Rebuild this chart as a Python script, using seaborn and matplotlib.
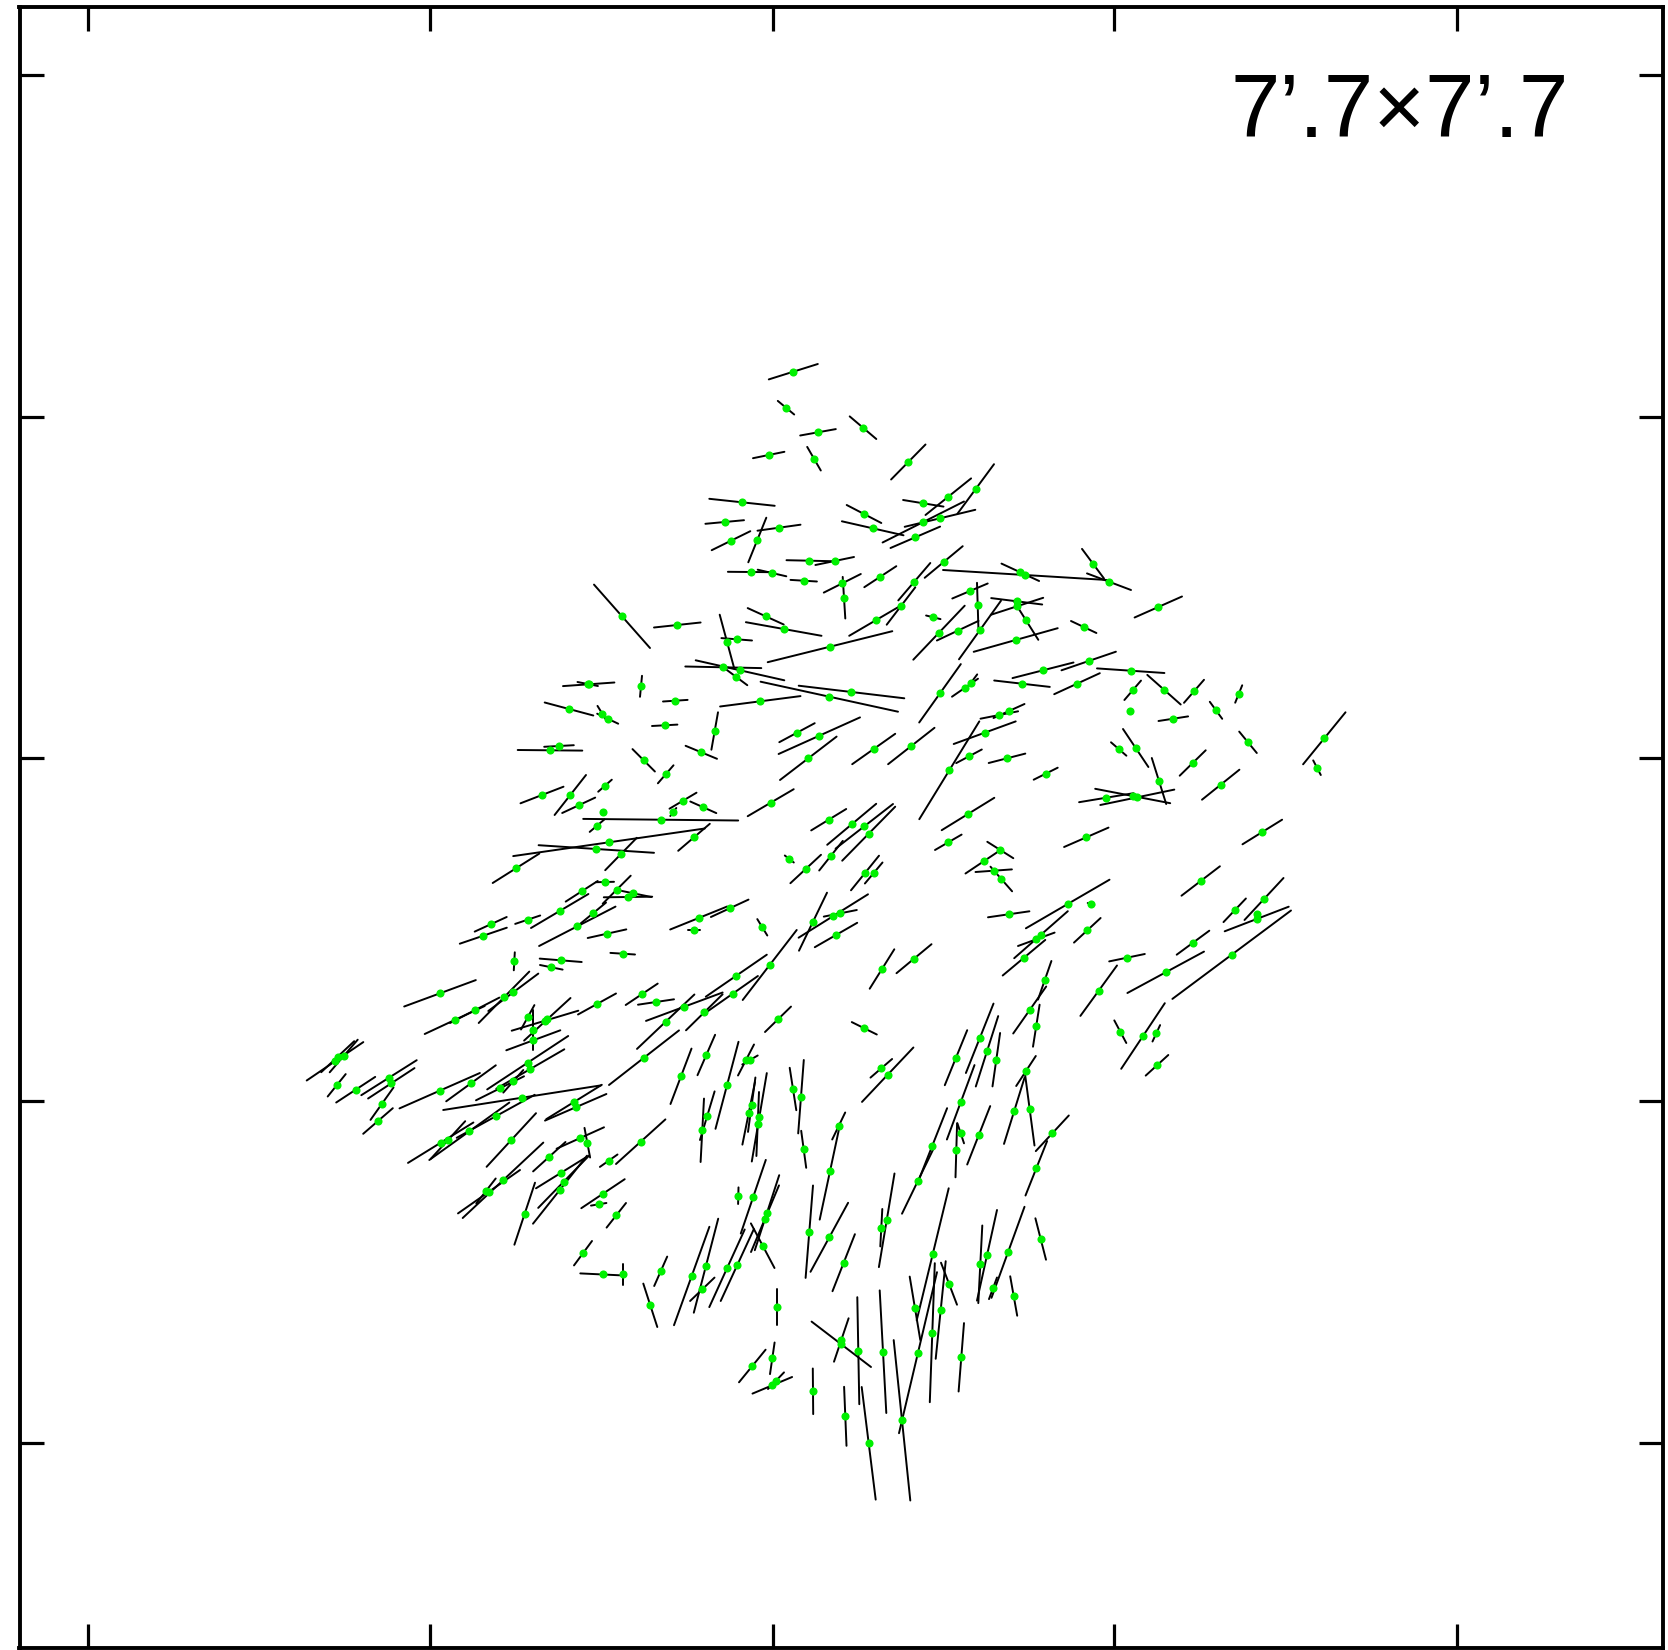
import matplotlib
matplotlib.use("Agg")
import matplotlib.pyplot as plt
import numpy as np
import pandas as pd
import seaborn as sns

# star positions and half polarization vectors, in image pixels of the map
star_x = [
    440, 454.7, 474.7, 504, 513.3, 514.3, 560.7, 551.3, 622.7, 597,
    641.7, 656, 527.7, 533.3, 533.3, 545, 547.3, 527.7, 530.3, 500,
    513.3, 471, 439.7, 389, 391.3, 382, 378, 355.7, 336.7, 335,
    337.7, 343.7, 522, 495.7, 469.3, 440.7, 448, 574, 575.7, 511.3,
    644, 640.7, 580.3, 587.3, 549.3, 608.7, 560.7, 563.7, 560, 603,
    598.7, 616.3, 524.7, 489, 503, 486, 583, 603.2, 623.4,
    542, 570.3, 578.7, 605, 603.3, 597, 660.7, 683, 673.3, 703.3,
    770.7, 694, 609, 596.3, 621, 516, 605, 616.7, 581.7, 633.3,
    628, 559.7, 593, 577.3, 607, 527.7, 490.7, 483.3, 698.7, 729.7,
    694, 789.3, 805.7, 762.3, 813, 769.7, 736.3, 732.7, 704.3, 684.3,
    665.7, 778,
    828.7, 851.7, 864.3, 868.7, 831, 865, 873.7, 949.3, 968, 948.3,
    1000.3, 983.7, 993.7, 1001.3, 1086.3, 1106.3, 1132.7, 1137.3, 1159, 833.3,
    840.3, 836, 882, 914, 1008.7, 1067.7, 1091, 1087.3, 1041, 1036.3,
    1024, 1127, 1098.7, 1044.7, 1029.7, 1036.3, 864.3, 1120.3,
    1088.7, 1043, 1130.7, 1077, 1132.7, 1164, 1194, 1238.7, 1216, 1129.7,
    1173.3, 1248, 1118.7, 1135.7, 1192.7, 1324.3, 1317, 1220.7, 1045.7, 1262.3,
    1200.7, 1264, 1234.7, 1256.7, 1257.3, 1231.7, 1193, 1165.7, 1143, 1156.3,
    1157,
    622, 677.3, 727, 736.7, 765.7, 783.7, 830, 842.3, 844, 723.3,
    740, 736.3, 851.5, 829.3, 760.3, 641, 587.7, 588.7, 675.3, 569,
    602.3, 607.7, 664.7, 714.7, 559, 550, 701.3, 643.7, 665.7, 797,
    819.3, 808.3,
    834.7, 880.3, 914.3, 943.7, 1020.3, 1025, 1093, 1109, 1158.3, 970,
    977.7, 933.3, 901, 875.7, 939, 957.7, 980, 1016.7, 1017, 1026,
    1015.7, 1083.7, 1022, 965, 971, 999.3, 1009, 984.7, 969, 1007,
    873.7, 911.3, 940,
    793.3, 786, 818, 863, 768.7, 814, 908.3, 742, 724.7, 731,
    757.3, 779, 864, 872.7, 923.3, 948.3, 975.7, 923.3, 940, 915.3,
    809.3, 750.7, 772, 803.7,
    681, 706.3, 727, 746, 750, 707.3, 702.3, 751.7, 748.7, 759.3,
    757.7, 793, 801, 803.7, 838.7, 830, 881.3, 887.7, 956, 979.7,
    987, 996.3, 960.7, 932.3, 918, 956.3, 960.7, 978.7, 738.3, 753.3,
    767, 765, 762.7, 809.3, 829.3, 843.7, 886.7, 881.3, 932.7, 980.3,
    987, 660.7, 691.7, 706, 702.3, 727, 737.3,
    650.3, 776.7, 841.3, 841.3, 858.3, 883, 918, 932.3, 940.7, 915,
    949, 993, 1013.7, 961.3, 752.3, 772.3, 776, 772.3, 813, 845.3,
    868.7, 902,
    1026, 1014.3, 1029.7, 1052.3, 1036.3, 1008, 1040.7,
]
star_y = [
    993.3, 1020, 1010.3, 997.3, 992.3, 961.3, 960.3, 967.3, 953.7, 1004,
    994.3, 1002, 1017.3, 1030.3, 1040.3, 1020.7, 1019.3, 1062.7, 1069, 1088.3,
    1081.3, 1083.3, 1090.7, 1077.7, 1083.3, 1103.7, 1121, 1089.7, 1085.3, 1061.3,
    1056.7, 1056, 1097.7, 1116.3, 1131.3, 1142.7, 1140, 1102, 1107.3, 1140,
    1057.7, 1141.7, 1138, 1142.7, 1156.7, 1160.7, 1173, 1181.7, 1189.7, 1193.7,
    1204.3, 1215.3, 1213.7, 1191.7, 1180.3, 1191, 1253.2, 1274.5, 1274.5,
    795, 795, 805.3, 785.7, 812, 825.7, 819.7, 800.7, 812, 807.3,
    802.7, 837.3, 842.3, 849, 854, 868.3, 882, 889.7, 891.3, 893.3,
    897, 911, 913.3, 926.3, 933.7, 919.7, 924.3, 935.7, 918, 908.3,
    930.3, 859, 869, 927.3, 921.7, 965, 975.7, 993.7, 1012.3, 1006.7,
    1021.7, 1019.3,
    819.7, 824.3, 826.3, 833.7, 855.7, 873, 873, 770.3, 814, 842.3,
    850, 861.3, 870.7, 879, 837.3, 797.7, 796, 797.3, 781, 916,
    913.3, 935, 969, 958.7, 914.3, 904, 904, 930.3, 934.7, 939.3,
    957.7, 957.7, 990.7, 980.3, 1010, 1025.7, 1028.3, 1031.7,
    661, 670.3, 670.7, 683.7, 690.3, 689.7, 691.3, 694, 710.3, 711,
    718.7, 742.3, 749, 748, 763, 738.3, 767.7, 784.7, 773.7, 832,
    881, 899, 910.3, 919, 914.3, 954.7, 942.7, 972.3, 1036, 1033.3,
    1065.3,
    616.3, 625, 641.7, 639.3, 616.3, 629, 646.7, 583.3, 597.7, 667.3,
    670.3, 677, 692, 696.7, 701.3, 686.3, 684, 684.3, 700.7, 709,
    713.7, 718.7, 725.3, 731, 746, 750.3, 752.3, 760.3, 774.3, 732.7,
    735.7, 758.3,
    561, 576.7, 581.7, 562, 572.3, 575, 563.7, 581.7, 607, 591,
    605.3, 617.3, 606, 620.3, 632.7, 630.7, 630, 601.3, 606.3, 620.3,
    640, 627, 683.7, 687.7, 682.7, 715, 711, 732.7, 756.3, 758.3,
    749, 746, 693.3,
    371.7, 407.7, 432.3, 427.7, 455, 458.7, 462, 502.3, 522, 540.7,
    540, 527.7, 514, 528.3, 503.3, 496.7, 489, 522, 518.3, 537.3,
    560.7, 572, 573, 580.7,
    1076.3, 1055, 1085.3, 1060, 1060, 1115.7, 1130.3, 1104.7, 1113.3, 1117.3,
    1124, 1089, 1096.7, 1149.3, 1126, 1171.3, 1068.3, 1074.7, 1057.7, 1038.3,
    1051.3, 1059.7, 1102.3, 1145.7, 1180.7, 1150.3, 1133.3, 1135.3, 1195.7, 1196.7,
    1212.7, 1218.7, 1245.7, 1231.7, 1237.3, 1262.7, 1220.3, 1227.7, 1254.3, 1264.3,
    1255.3, 1271.3, 1276, 1265.7, 1289.3, 1268.3, 1265,
    1305.3, 1307.3, 1340, 1344.3, 1350.7, 1351.7, 1352.7, 1332.7, 1310, 1308.3,
    1283.7, 1288.3, 1296, 1357.3, 1366, 1358.3, 1380.7, 1385.3, 1391.3, 1416.3,
    1443.3, 1420.3,
    1071, 1110.7, 1109.3, 1133.3, 1168.3, 1252.3, 1239,
]
half_dx = [
    35.8, 30, 24.7, 25.3, 25, 0.5, 21, 11.3, 12.3, 19,
    16, 18, 6.7, 0, 27, 33.3, 23.2, 40.5, 34, 24,
    10, 24.8, 40.2, 27.7, 23.2, 11.5, 14.8, 19.5, 9, 28.3,
    16.5, 14, 78.8, 39, 40, 32.7, 17.2, 27.8, 30.7, 24.7,
    35, 24.7, 23.7, 2.8, 16.2, 8.8, 24.7, 25.5, 27, 21.7,
    7.7, 9.7, 10.3, 31, 40.3, 9.7, 9, 22.9, 0,
    21.5, 15.7, 16.5, 6.8, 0, 7.3, 77.5, 13.5, 3, 13,
    23, 15.8, 95.8, 57.7, 15.8, 23.3, 9, 14, 16, 18,
    24.2, 28.7, 13, 38.2, 19.3, 12.5, 16, 23.5, 28.5, 18.8,
    5.8, 4.5, 15.3, 5, 14, 27, 30.5, 25.2, 18.3, 38.3,
    28.7, 13,
    17.5, 24.5, 28.7, 26.5, 11.8, 14, 8.8, 30, 26.3, 13.3,
    13, 18.2, 18.2, 10.8, 22.2, 27.2, 37.5, 37, 7.2, 34.7,
    16.5, 21.2, 12.3, 17.5, 20.7, 41.8, 3.3, 13.3, 26.8, 18.3,
    21.3, 17.8, 18.3, 6.7, 16.5, 3.3, 12.5, 6,
    27.2, 30.5, 33.7, 22.8, 8.3, 16.7, 10, 3.5, 6.2, 0,
    14.8, 8.8, 7.7, 12.7, 13, 21.2, 3.8, 18.7, 12, 19.8,
    19.2, 19.5, 11.2, 32, 0, 59.3, 16.3, 38.3, 21.8, 3.8,
    11.3,
    28, 23.3, 7.3, 15.3, 18, 37.8, 62.3, 18.5, 1.3, 38,
    44.3, 11, 52.8, 68.7, 40.2, 1, 10.2, 25.7, 12.3, 24.3,
    4.8, 10.5, 12.7, 3.3, 14.8, 32.3, 15.7, 11.2, 7.8, 17.7,
    40.7, 28.3,
    19.3, 16, 16, 19, 18.8, 82, 11, 22, 23.7, 17.7,
    0.7, 7.2, 14.3, 26.5, 25.7, 20.8, 21, 25.5, 26.2, 12.3,
    42, 12.7, 27.8, 13, 6.2, 18.8, 15.5, 31, 12.8, 18.3,
    21.5, 23.2, 20.8,
    24.5, 8.2, 17.8, 13.3, 15.7, 6.8, 17.2, 32.7, 19.3, 19.3,
    9, 21.5, 17.3, 30.8, 20.2, 22.8, 18.3, 40.7, 35.3, 24.8,
    22.8, 22.8, 14.3, 13.2,
    10.5, 8.8, 11.5, 8, 7.7, 7.3, 1.7, 3.7, 6.3, 7.5,
    1.3, 3.3, 2.8, 2.5, 6.5, 10.3, 10.8, 25.7, 11.2, 13.8,
    11.2, 3.8, 13.8, 14.8, 16, 0.8, 3.3, 11.5, 0.2, 12.5,
    12.2, 14, 11.8, 3.7, 18.8, 11.2, 7.8, 1, 16, 2,
    10, 6.5, 17.7, 12.2, 12.2, 17.7, 16.6,
    7, 0, 7.3, 29.7, 1, 3.3, 19, 2.5, 5, 5.3,
    8, 4, 3.5, 2.7, 13.3, 2.3, 8, 19.8, 0.2, 1.2,
    7, 8.3,
    9.8, 10.3, 4.8, 16.5, 10.8, 16.5, 5.3,
]
half_dy = [
    -13.2, -14, -12.7, -25.7, -18.7, -9, 1.7, 2.3, 0.8, -10.5,
    -10.7, -2.7, -12.2, -20, -10, -10, -21.3, -26.7, -19.7, -12,
    -11.3, -18, -17.7, -17.5, -15.2, -16.2, -12.8, -12.8, -11.2, -19.2,
    -15.5, -16.3, -12.3, -21.5, -28.7, -20.2, -18.8, -17.2, -13.3, -26.8,
    -27.3, -22.3, -10.7, 14.8, -14.7, -6.2, -15.3, -26.2, -34, -14.5,
    -1.3, -12.3, -31, -21.7, -37.7, -12.5, -12.2, 1.1, 10.6,
    -8.3, -20, -7.7, -6, 0, -6.2, 0.8, -8, -4, 5.8,
    -13.5, -13.5, -13.8, 3.8, -16.2, -14.7, -0.2, -14, -10.3, 3.7,
    -0.3, -17, -10.7, -19.7, -4.3, -4.2, -7.3, -8, -11.5, -8.7,
    0, 3.5, -14.2, 8.2, -29, -35, -21, -17.7, -18, -14.2,
    -27.2, -12.7,
    -10.7, -20.5, -22.3, -27, -14.8, -17.3, -10.5, -48.9, -16.2, -7.7,
    8.2, -12.2, -1.3, 12.3, -9.7, -4.5, 7.2, -7.7, 23, -21.7,
    -3.3, -12.2, -19.7, -14.5, -3, -24.3, 1, -12.3, -23.5, -6.7,
    -17.8, -3.7, -25.2, -19.3, -23.5, -21, 6.2, 11.3,
    -9.3, -7.8, 2.3, -10.5, -9.7, 14.8, -11.5, -8.7, 8.5, 0,
    -2.3, 10.7, 6.7, 19, -12.7, -26, 7.3, -15, -6, -12.3,
    -14.7, -21, -11.8, -12.3, 0, -44.2, -12, -20.7, -32.8, -8.2,
    -10.3,
    31.7, -2.5, 27, 1.2, 8.2, 6.8, -15.5, -9.3, 20.8, 0.8,
    10, 8.2, 6.3, 15, -5.2, -10.5, 2, -1.8, -0.8, 6.5,
    7.8, 5, -0.7, -18.7, -0.8, 0.3, 6.5, 11.2, -9, -9.5,
    -18.3, -21.7,
    -4, -10.5, -18.7, -15.8, 8.7, 5, 14.8, 8.3, -10.5, -7.5,
    22.5, 1.8, -18.7, -15.5, -27, -9.8, -29.3, 3.2, -8.5, 19.5,
    -11.8, 6, 3.2, -9, -8.3, -3.7, -7, -11.3, -6.8, -4.7,
    -15.2, -18.2, -29.2,
    -7.7, 6.8, -3.2, 11.3, -3.2, 11.8, -17.5, 3.5, -1.8, -9.5,
    -22.3, -3, 9, 7, 3.3, -18.3, -24.8, -20.5, -8.5, -10.7,
    0.5, 0.2, 3.3, 0.8,
    -27.7, -20.2, -43.5, -15.5, -4.5, -24.3, -31.7, -27.2, -31.3, -44.2,
    -32, 21.2, -36.7, 18.5, -13.5, -48.3, -9.3, -27.2, -27.5, -34.7,
    -35.2, -26.7, -37.2, -37.5, -33, -27, 10, -29.2, -8.3, -36.8,
    -37.5, -33.3, 22.3, -46.2, -34.5, -28.5, -46.8, -18.7, -66, -38.8,
    -45.3, -14.7, -49.2, -47, -11.7, -38.8, -36,
    21.7, 17.8, -21.7, 22.7, 53.5, 61.3, -80.5, -69.5, -48.8, 31.7,
    21, -10.8, 19.7, -34.2, -16.3, -15.8, -8.3, -8.3, 22.8, 29.5,
    56.3, 80.2,
    -15, -33.2, 36.2, -17.8, -27.2, -45.5, 20.7,
]
tick_x = [88, 430.5, 773, 1114.5, 1457.5]
tick_y = [75.5, 417, 758.5, 1101, 1443.5]
field_label = "7\u2019.7\u00d77\u2019.7"

stars = pd.DataFrame({"x": star_x, "y": star_y, "dx": half_dx, "dy": half_dy})
stars["star"] = np.arange(len(stars))

# each vector is drawn centred on its star
low_end = stars.assign(x=stars.x - stars.dx, y=stars.y - stars.dy)
high_end = stars.assign(x=stars.x + stars.dx, y=stars.y + stars.dy)
vectors = pd.concat([low_end, high_end]).sort_values("star", kind="stable")

sns.set_style("white")
plt.rcParams["font.family"] = ["Liberation Sans", "DejaVu Sans"]

W, H = 1668, 1650
fig = plt.figure(figsize=(W / 100, H / 100), dpi=100)
left, right, top, bottom = 19.5, 1662.7, 6.7, 1648
ax = fig.add_axes([left / W, 1 - bottom / H, (right - left) / W, (bottom - top) / H])

sns.lineplot(data=vectors, x="x", y="y", units="star", estimator=None, sort=False,
             color="black", lw=1.4, ax=ax, legend=False)
sns.scatterplot(data=stars, x="x", y="y", color="#00f000", s=34, linewidth=0,
                ax=ax, zorder=5, legend=False)

ax.set_xlim(left, right)
ax.set_ylim(bottom, top)
ax.set_xticks(tick_x)
ax.set_yticks(tick_y)
ax.set_xlabel("")
ax.set_ylabel("")
ax.tick_params(direction="in", length=17, width=2.3, color="black",
               top=True, right=True, bottom=True, left=True,
               labelbottom=False, labelleft=False)
for spine in ax.spines.values():
    spine.set_visible(True)
    spine.set_color("black")
    spine.set_linewidth(2.8)

ax.text(1231, 136.7, field_label, fontsize=64, color="black", ha="left", va="baseline")

fig.savefig("out.png", dpi=100)
